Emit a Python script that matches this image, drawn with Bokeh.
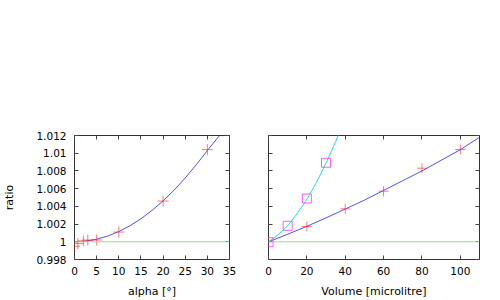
from bokeh.plotting import figure
from bokeh.models import Range1d, LinearAxis, FixedTicker, CustomJSTickFormatter, Span
from bokeh.layouts import row
from bokeh.embed import file_html
from bokeh.resources import INLINE

# ---------------- data ----------------
y_ticks = [0.998, 1.0, 1.002, 1.004, 1.006, 1.008, 1.010, 1.012]
alpha_ticks = [0, 5, 10, 15, 20, 25, 30, 35]
vol_ticks = [0, 20, 40, 60, 80, 100]
baseline = 1.0

alpha_meas_x = [0, 0.75, 2, 3, 5, 10, 20, 30]
alpha_meas_y = [0.9995, 0.9998, 1.0001, 1.0002, 1.0002, 1.0011, 1.0046, 1.0104]
alpha_fit_x = [0, 2.5, 5, 7.5, 10, 12.5, 15, 17.5, 20, 22.5, 25, 27.5, 30, 32.5, 33.5]
alpha_fit_y = [1.0, 1.00007, 1.00029, 1.00065, 1.00116, 1.0018, 1.0026, 1.00354,
               1.00462, 1.00583, 1.0072, 1.0087, 1.0103, 1.01185, 1.0125]

vol_cross_x = [0, 20, 40, 60, 80, 100]
vol_cross_y = [1.0, 1.00173, 1.00372, 1.00571, 1.00831, 1.01042]
vol_fit_x = [0, 10, 20, 30, 40, 50, 60, 70, 80, 90, 100, 110]
vol_fit_y = [1.0, 1.00085, 1.00175, 1.0027, 1.0037, 1.0047, 1.0058, 1.0069,
             1.0080, 1.0092, 1.0104, 1.0118]

vol_sq_x = [0, 10, 20, 30]
vol_sq_y = [0.99995, 1.0018, 1.00489, 1.00892]
vol_fit2_x = [0, 5, 10, 15, 20, 25, 30, 35, 37]
vol_fit2_y = [1.0, 1.0008, 1.0018, 1.0032, 1.0048, 1.0067, 1.0089, 1.0113, 1.0124]

FONT = "DejaVu Sans"
TICKC = "#444444"


def style_axis(ax, labels=True):
    ax.major_tick_in = 4
    ax.major_tick_out = 0
    ax.minor_tick_line_color = None
    ax.major_tick_line_color = TICKC
    ax.axis_line_color = None
    ax.major_label_text_font = FONT
    ax.axis_label_text_font = FONT
    ax.axis_label_text_font_style = "normal"
    ax.axis_label_text_font_size = "11px"
    ax.axis_label_text_color = "#000000"
    if labels:
        ax.major_label_text_font_size = "10.5px"
        ax.major_label_text_color = "#000000"
    else:
        ax.major_label_text_font_size = "1px"
        ax.major_label_text_color = None
        ax.major_label_standoff = 0


def make_fig(width, xr, xticks, bl, br, ylabels):
    p = figure(width=width, height=300, output_backend="svg", toolbar_location=None,
               x_range=Range1d(*xr), y_range=Range1d(0.998, 1.012),
               x_axis_location=None, y_axis_location=None,
               min_border_left=bl, min_border_right=br, min_border_top=135,
               min_border_bottom=41)
    p.grid.visible = False
    p.outline_line_color = "#333333"
    p.outline_line_width = 1
    p.background_fill_color = "white"
    p.border_fill_color = "white"

    bottom = LinearAxis(ticker=FixedTicker(ticks=xticks))
    left = LinearAxis(ticker=FixedTicker(ticks=y_ticks),
                      formatter=CustomJSTickFormatter(code="return String(Number(tick.toFixed(3)));"))
    top = LinearAxis(ticker=FixedTicker(ticks=xticks))
    right = LinearAxis(ticker=FixedTicker(ticks=y_ticks))
    style_axis(bottom)
    style_axis(left, labels=ylabels)
    style_axis(top, labels=False)
    style_axis(right, labels=False)
    bottom.major_label_standoff = 7
    bottom.axis_label_standoff = 7
    p.add_layout(bottom, "below")
    p.add_layout(left, "left")
    p.add_layout(top, "above")
    p.add_layout(right, "right")
    p.add_layout(Span(location=baseline, dimension="width", line_color="#88e088", line_width=1))
    return p, bottom, left


# ---- left panel ----
p1, b1, l1 = make_fig(248, (0, 35), alpha_ticks, 73, 19, True)
b1.axis_label = "alpha [°]"
l1.axis_label = "ratio"
l1.major_label_standoff = 8
l1.axis_label_standoff = 17
p1.line(alpha_fit_x, alpha_fit_y, line_color="#3333ff", line_width=1, line_alpha=0.85)
p1.scatter(alpha_meas_x, alpha_meas_y, marker="cross", size=11, line_color="#ff2222",
           line_alpha=0.6, line_width=1)

# ---- right panel ----
p2, b2, l2 = make_fig(252, (0, 110), vol_ticks, 20, 21, False)
b2.axis_label = "Volume [microlitre]"
p2.line(vol_fit_x, vol_fit_y, line_color="#3333ff", line_width=1, line_alpha=0.85)
p2.line(vol_fit2_x, vol_fit2_y, line_color="#22e0e0", line_width=1)
p2.scatter(vol_cross_x, vol_cross_y, marker="cross", size=10, line_color="#ff2222",
           line_alpha=0.6, line_width=1)
p2.scatter(vol_sq_x, vol_sq_y, marker="square", size=9, fill_color=None,
           line_color="#ff33ff", line_alpha=0.8, line_width=1)

layout = row(p1, p2)
open("out.html", "w").write(file_html(layout, INLINE))
